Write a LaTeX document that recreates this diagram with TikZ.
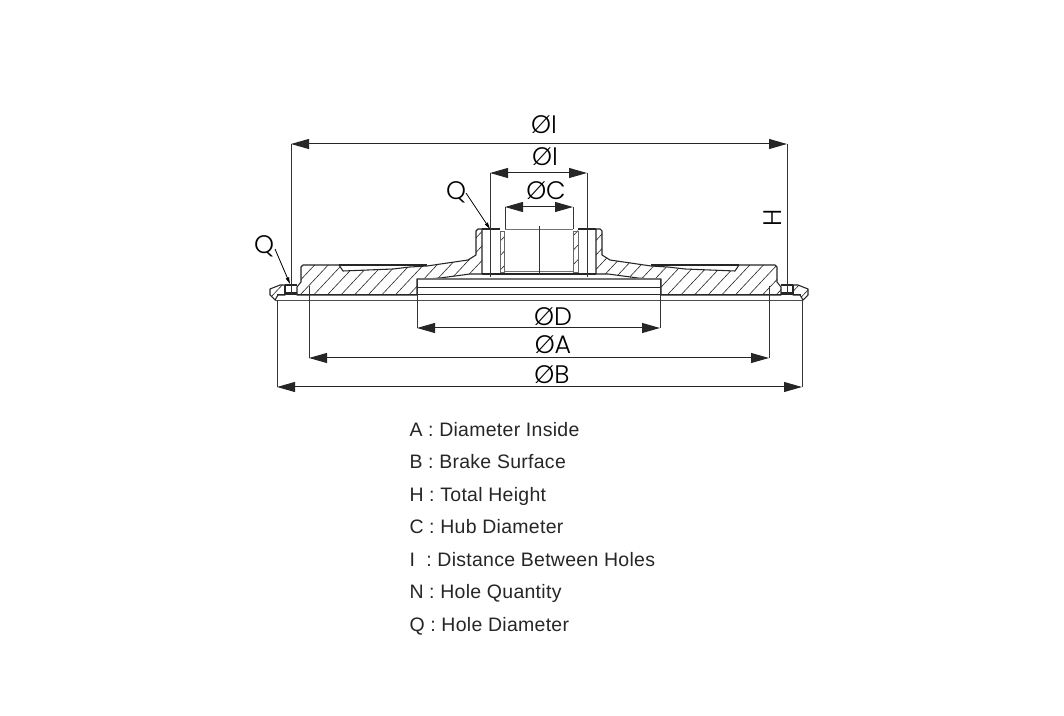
\documentclass[tikz,border=0pt]{standalone}
\usepackage{fontspec}
\setmainfont{Poppins Light}
\newfontfamily\keyfont[LetterSpace=1.5]{Liberation Sans}
\usetikzlibrary{arrows.meta}
\begin{document}
\begin{tikzpicture}[x=0.75pt,y=-0.75pt,line width=0.75pt]
\tikzstyle{dimline}=[{Triangle[length=13.5pt,width=7.5pt]}-{Triangle[length=13.5pt,width=7.5pt]},black!85]
\tikzstyle{extline}=[black!80,line width=0.7pt]
\tikzstyle{leader}=[-{Triangle[length=5pt,width=2.5pt]},line width=0.6pt]
\tikzstyle{outline}=[black!85,line width=0.8pt,line join=round]
\tikzstyle{threadline}=[black!60,line width=0.7pt]
\tikzstyle{greyline}=[black!55,line width=1pt]
\tikzstyle{hatchline}=[black!85,line width=0.45pt]
\tikzstyle{dimlabel}=[font=\fontsize{19}{20}\selectfont,inner sep=0pt]
\tikzstyle{keyline}=[font=\keyfont\fontsize{14.6}{16}\selectfont,anchor=base west,inner sep=0pt,black!85]
\useasboundingbox (0,0) rectangle (1064,716);
\fill[white] (0,0) rectangle (1064,716);
\def\bodypath{(297,295) -- (297,287) -- (301,282) -- (301,267) -- (303,265) -- (339,265) -- (343,271) -- (393,269) -- (410,267) -- (427,266) -- (468,260) -- (476,255) -- (476,231) -- (478,229) -- (482,229) -- (482,274) -- (470,274) -- (440,278) -- (427,279) -- (417,279) -- (417,295) -- cycle}
\def\tippath{(285,285) -- (280,285) -- (270,289) -- (270,295) -- (275,300) -- (278,295) -- (285,295) -- cycle}
\def\threadpath{(500,231) -- (504.5,231) -- (504.5,272) -- (500,272) -- cycle}
\foreach \s/\m in {1/0,-1/1078}{
\begin{scope}[shift={(\m,0)},xscale=\s]
\foreach \p in {\bodypath,\tippath}{
\begin{scope}
\clip \p;
\begin{scope}[shift={(\m,0)},xscale=\s]
\foreach \i in {0,13.6,...,780}{
\draw[hatchline] (\i+150,310) -- ++(75,-80);
}
\end{scope}
\end{scope}
\draw[outline] \p;
}
\begin{scope}
\clip \threadpath;
\begin{scope}[shift={(\m,0)},xscale=\s]
\foreach \i in {0,13.6,...,780}{
\draw[hatchline] (\i+150,310) -- ++(75,-80);
}
\end{scope}
\end{scope}
\draw[threadline] \threadpath;
\draw[outline] (339,265) -- (427,265);
\draw[outline] (285,285) -- (297,285) (285,285) -- (285,295) (297,293) -- (285,293);
\draw[outline] (482,229) -- (500,229);
\draw[greyline] (505,229.5) -- (539,229.5);
\draw[black!85,line width=1.2pt] (482,274) -- (539,274);
\draw[greyline] (505,271.5) -- (539,271.5);
\draw[greyline] (417,279) -- (539,279);
\draw[black!85,line width=0.7pt] (417,287) -- (539,287);
\draw[black!85,line width=0.7pt] (277,294.7) -- (539,294.7);
\draw[black!70,line width=1.05pt] (275,300.7) -- (539,300.7);
\end{scope}
}
\coordinate (topL) at (291,144);
\coordinate (topR) at (787,144);
\coordinate (topLb) at (291,295);
\coordinate (topRb) at (787,295);
\coordinate (boltL) at (490,173);
\coordinate (boltR) at (587,173);
\coordinate (boltLb) at (490,277);
\coordinate (boltRb) at (587,277);
\coordinate (hubL) at (505,207);
\coordinate (hubR) at (573,207);
\coordinate (hubLb) at (505,229);
\coordinate (hubRb) at (573,229);
\coordinate (midT) at (539,226);
\coordinate (midB) at (539,275);
\coordinate (boreL) at (417,328);
\coordinate (boreR) at (660,328);
\coordinate (boreLt) at (417,279);
\coordinate (boreRt) at (660,279);
\coordinate (insL) at (309,358);
\coordinate (insR) at (769,358);
\coordinate (insLt) at (309,286);
\coordinate (insRt) at (769,286);
\coordinate (brkL) at (277,387);
\coordinate (brkR) at (802,387);
\coordinate (brkLt) at (277,300);
\coordinate (brkRt) at (802,300);
\coordinate (holeA) at (490,229);
\coordinate (holeB) at (290,284);
\draw[extline] (topL) -- (topLb);
\draw[extline] (topR) -- (topRb);
\draw[extline] (boltL) -- (boltLb);
\draw[extline] (boltR) -- (boltRb);
\draw[extline] (hubL) -- (hubLb);
\draw[extline] (hubR) -- (hubRb);
\draw[extline] (midT) -- (midB);
\draw[extline] (boreLt) -- (boreL);
\draw[extline] (boreRt) -- (boreR);
\draw[extline] (insLt) -- (insL);
\draw[extline] (insRt) -- (insR);
\draw[extline] (brkLt) -- (brkL);
\draw[extline] (brkRt) -- (brkR);
\draw[dimline] (topL) -- (topR);
\draw[dimline] (boltL) -- (boltR);
\draw[dimline] (hubL) -- (hubR);
\draw[dimline] (boreL) -- (boreR);
\draw[dimline] (insL) -- (insR);
\draw[dimline] (brkL) -- (brkR);
\node[dimlabel] (lblTop) at (544,125) {ØI};
\node[dimlabel] (lblBolt) at (545,157) {ØI};
\node[dimlabel] (lblHub) at (546,191) {ØC};
\node[dimlabel] (lblBore) at (553,317) {ØD};
\node[dimlabel] (lblIns) at (553,345) {ØA};
\node[dimlabel] (lblBrk) at (552,375) {ØB};
\node[dimlabel,rotate=90] (lblH) at (773,218) {H};
\node[dimlabel] (lblQa) at (456,192) {Q};
\node[dimlabel] (lblQb) at (264,246) {Q};
\draw[leader] (466,193) -- (holeA);
\draw[leader] (275,249) -- (holeB);
\node[keyline] (keyA) at (409,436) {A : Diameter Inside};
\node[keyline] (keyB) at (409,468.5) {B : Brake Surface};
\node[keyline] (keyH) at (409,501) {H : Total Height};
\node[keyline] (keyC) at (409,533.5) {C : Hub Diameter};
\node[keyline] (keyI) at (409,566) {I\ \ : Distance Between Holes};
\node[keyline] (keyN) at (409,598.5) {N : Hole Quantity};
\node[keyline] (keyQ) at (409,631) {Q : Hole Diameter};
\end{tikzpicture}
\end{document}
